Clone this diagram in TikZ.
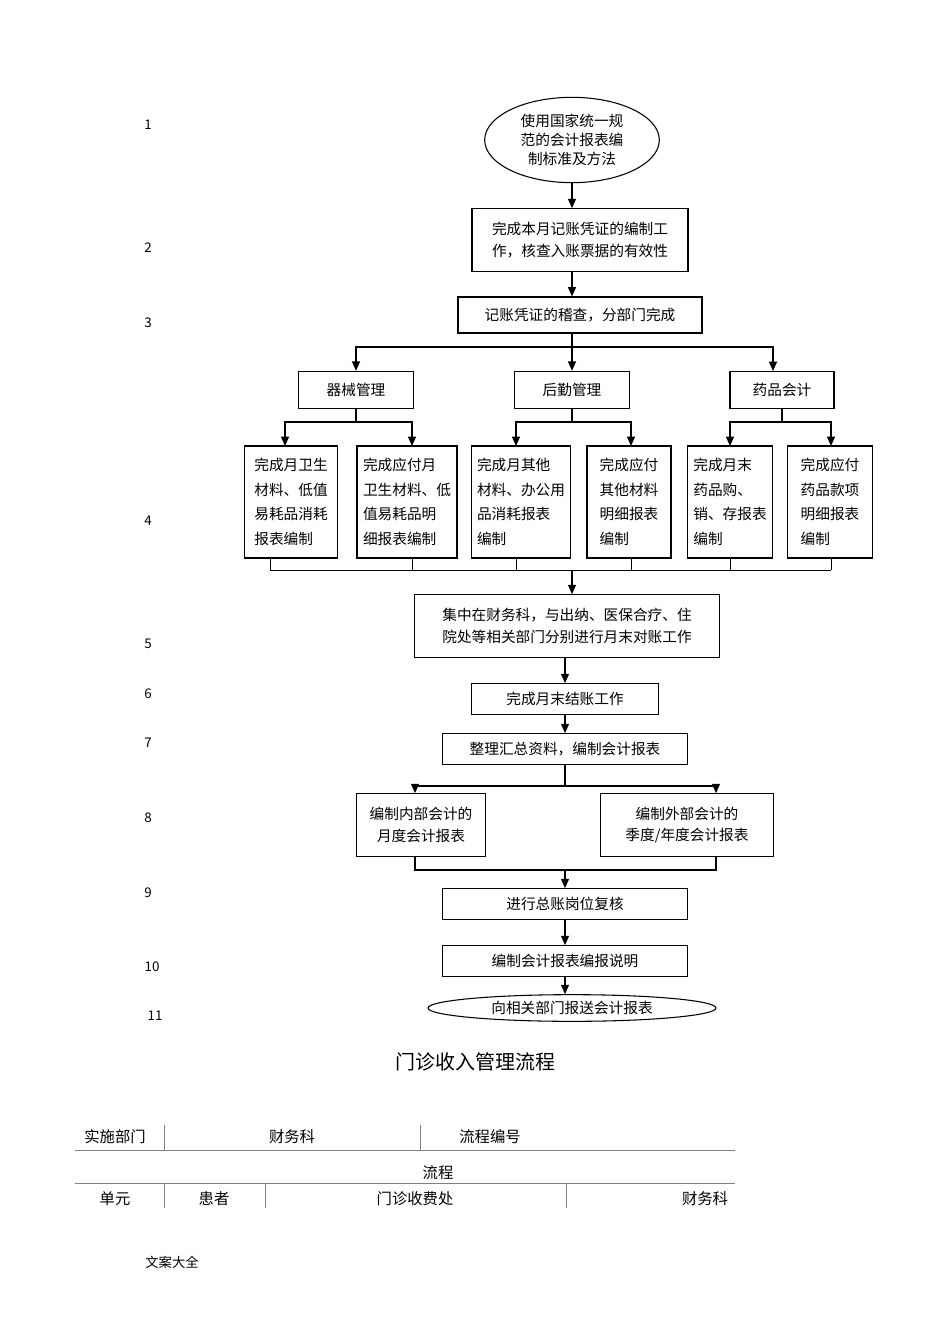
\documentclass[tikz,border=0pt]{standalone}
\usepackage{fontspec}
\setmainfont{Noto Sans CJK SC}
\usetikzlibrary{shapes.geometric,arrows.meta}
\tikzset{
  stepbox/.style={draw, thick, rectangle, inner sep=0pt, font=\fontsize{11}{16}\selectfont},
  subbox/.style={draw, thick, rectangle, inner sep=1pt, minimum height=84pt, align=left, font=\fontsize{11}{18.5}\selectfont},
  endbox/.style={draw, thick, ellipse, inner sep=0pt, align=center, font=\fontsize{11}{14.5}\selectfont},
  num/.style={font=\fontsize{10}{12}\selectfont},
  cell/.style={font=\fontsize{11.5}{13}\selectfont},
  arr/.style={thick, -{Triangle[length=7pt,width=6pt]}},
  ln/.style={thick}
}
\begin{document}
\begin{tikzpicture}[x=0.75pt, y=-0.75pt]
	\useasboundingbox (0,0) rectangle (950,1344);
	% step numbers on the left
	\foreach \n/\x/\y in {1/148/125, 2/148/248, 3/148/323, 4/148/521, 5/148/644, 6/148/694,
		7/148/743, 8/148/818, 9/148/893, 10/152/967, 11/155/1016}
		\node[num] (n\n) at (\x,\y) {\n};

	% main flow
	\node[endbox, minimum width=131pt, minimum height=64pt] (s1) at (572,140) {使用国家统一规\\范的会计报表编\\制标准及方法};
	\node[stepbox, minimum width=162pt, minimum height=47pt, align=left] (s2) at (580,240) {完成本月记账凭证的编制工\\作，核查入账票据的有效性};
	\node[stepbox, minimum width=183pt, minimum height=27pt] (s3) at (580,315) {记账凭证的稽查，分部门完成};
	\node[stepbox, minimum width=86pt, minimum height=28pt] (d1) at (356,390) {器械管理};
	\node[stepbox, minimum width=86pt, minimum height=28pt] (d2) at (572,390) {后勤管理};
	\node[stepbox, minimum width=78pt, minimum height=28pt] (d3) at (782,390) {药品会计};

	% detail boxes
	\node[subbox, minimum width=70pt] (r1) at (291,502) {完成月卫生\\材料、低值\\易耗品消耗\\报表编制};
	\node[subbox, minimum width=75pt] (r2) at (407,502) {完成应付月\\卫生材料、低\\值易耗品明\\细报表编制};
	\node[subbox, minimum width=74pt] (r3) at (521,502) {完成月其他\\材料、办公用\\品消耗报表\\编制};
	\node[subbox, minimum width=63pt] (r4) at (629,502) {完成应付\\其他材料\\明细报表\\编制};
	\node[subbox, minimum width=64pt] (r5) at (730,502) {完成月末\\药品购、\\销、存报表\\编制};
	\node[subbox, minimum width=64pt] (r6) at (830,502) {完成应付\\药品款项\\明细报表\\编制};

	\node[stepbox, minimum width=229pt, minimum height=47pt, align=left] (s5) at (567,626) {集中在财务科，与出纳、医保合疗、住\\院处等相关部门分别进行月末对账工作};
	\node[stepbox, minimum width=140pt, minimum height=23pt] (s6) at (565,699) {完成月末结账工作};
	\node[stepbox, minimum width=184pt, minimum height=23pt] (s7) at (565,749) {整理汇总资料，编制会计报表};
	\node[stepbox, minimum width=97pt, minimum height=47pt, align=center] (s8a) at (421,825) {编制内部会计的\\月度会计报表};
	\node[stepbox, minimum width=130pt, minimum height=47pt, align=center] (s8b) at (687,825) {编制外部会计的\\季度/年度会计报表};
	\node[stepbox, minimum width=184pt, minimum height=23pt] (s9) at (565,904) {进行总账岗位复核};
	\node[stepbox, minimum width=184pt, minimum height=23pt] (s10) at (565,961) {编制会计报表编报说明};
	\node[endbox, minimum width=216pt, minimum height=20pt] (s11) at (572,1008) {向相关部门报送会计报表};

	% connectors
	\draw[arr] (s1) -- (s1 |- s2.north);
	\draw[arr] (s2.south -| 572,0) -- (s3.north -| 572,0);
	\draw[ln] (s3.south -| 572,0) -- (572,347) coordinate (j3);
	\draw[arr] (j3) -| (d1);
	\draw[arr] (j3) -- (d2);
	\draw[arr] (j3) -| (773,371);
	\foreach \d/\a/\b in {d1/285/412, d2/516/631, d3/730/831} {
		\draw[ln] (\d.south) -- (\d.south |- 0,422) coordinate (j\d);
		\draw[arr] (j\d) -| (\a,446);
		\draw[arr] (j\d) -| (\b,446);
	}
	\foreach \r/\x in {r1/270, r2/412, r3/516, r4/631, r5/730, r6/831}
		\draw (\x,559) -- (\x,570);
	\draw (270,570) -- (831,570);
	\draw[arr] (572,570) -- (s5.north -| 572,0);
	\draw[arr] (s5.south -| 565,0) -- (s6);
	\draw[arr] (s6) -- (s7);
	\draw[ln] (s7) -- (565,786) coordinate (j7);
	\draw[ln] (415,786) -- (716,786);
	\draw[arr] (415,786) -- (s8a.north -| 415,0);
	\draw[arr] (716,786) -- (s8b.north -| 716,0);
	\draw[ln] (s8a.south -| 415,0) -- (415,870) -- (716,870) -- (s8b.south -| 716,0);
	\draw[arr] (565,870) -- (s9);
	\draw[arr] (s9) -- (s10);
	\draw[arr] (s10) -- (s10 |- s11.north);

	% title and table
	\node[font=\fontsize{15}{18}\selectfont] (title) at (475,1062) {门诊收入管理流程};
	\node[cell] (t1) at (115,1137) {实施部门};
	\node[cell] (t2) at (292,1137) {财务科};
	\node[cell] (t3) at (490,1137) {流程编号};
	\node[cell] (t4) at (438,1173) {流程};
	\node[cell] (t5) at (115,1199) {单元};
	\node[cell] (t6) at (214,1199) {患者};
	\node[cell] (t7) at (415,1199) {门诊收费处};
	\node[cell] (t8) at (705,1199) {财务科};
	\draw[gray] (75,1150) -- (735,1150) (75,1183) -- (735,1183);
	\draw[gray] (164,1125) -- (164,1150) (420,1125) -- (420,1150);
	\draw[gray] (164,1183) -- (164,1208) (265,1183) -- (265,1208) (566,1183) -- (566,1208);
	\node[font=\fontsize{10}{12}\selectfont] (foot) at (172,1262) {文案大全};
\end{tikzpicture}
\end{document}
